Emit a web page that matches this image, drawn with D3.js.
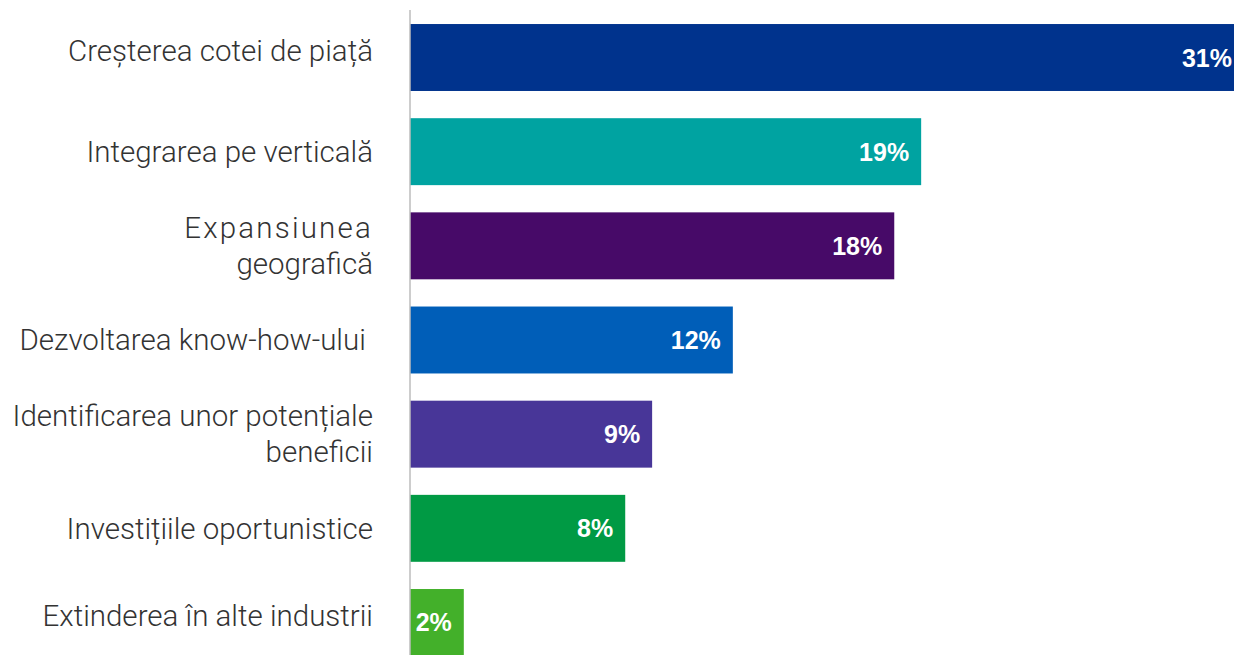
<!DOCTYPE html>
<html>
<head>
<meta charset="utf-8">
<script src="https://cdn.jsdelivr.net/npm/d3@7"></script>
<style>
  html, body { margin: 0; padding: 0; background: #fff; }
  svg { display: block; }
</style>
</head>
<body>
<div id="chart"></div>
<script>
// Categories (each one split in lines as on the slide)
const categories = [
    ["Creșterea cotei de piață"],
    ["Integrarea pe verticală"],
    ["Expansiunea", "geografică"],
    ["Dezvoltarea know-how-ului "],
    ["Identificarea unor potențiale", "beneficii"],
    ["Investițiile oportunistice"],
    ["Extinderea în alte industrii"]
];
const values = [31, 19, 18, 12, 9, 8, 2];
const colors = ["#00338D", "#00A3A1", "#470A68", "#005EB8", "#483698", "#009A44", "#43B02A"];

const width = 1234, height = 655;
const x0 = 410;

const svg = d3.select("#chart").append("svg")
    .attr("width", width)
    .attr("height", height);

const keys = categories.map(c => c.join(" "));
const n = keys.length;

let y = d3.scaleBand()
    .domain(keys)
    .range([10, 670])
    .paddingInner(0.289)
    .paddingOuter(0.149);

let x = d3.scaleLinear()
    .domain([0, 31])
    .range([x0, 1244]);

// bars
svg.selectAll("rect.bar")
    .data(values).enter()
    .append("rect")
    .attr("class", "bar")
    .attr("x", x(0))
    .attr("y", (d, i) => y(keys[i]))
    .attr("width", d => x(d) - x(0))
    .attr("height", y.bandwidth())
    .attr("fill", (d, i) => colors[i]);

// vertical axis line
svg.append("line")
    .attr("x1", x(0)).attr("x2", x(0))
    .attr("y1", y.range()[0]).attr("y2", height)
    .attr("stroke", "#bdbdbd")
    .attr("stroke-width", 1.5);

// value labels inside the bars
svg.selectAll("text.val")
    .data(values).enter()
    .append("text")
    .attr("class", "val")
    .attr("x", d => x(d) - 12)
    .attr("y", (d, i) => y(keys[i]) + y.bandwidth() / 2)
    .attr("dy", "0.36em")
    .attr("text-anchor", "end")
    .style("font-family", "'Liberation Sans', Arial, sans-serif")
    .style("font-weight", "bold")
    .style("font-size", "25px")
    .style("fill", "#fff")
    .text(d => d + "%");

// category labels (first and last sit a bit higher on the slide)
const lineH = 36;
let labels = svg.selectAll("text.cat")
    .data(categories).enter()
    .append("text")
    .attr("class", "cat")
    .attr("text-anchor", "end")
    .attr("y", (d, i) => y(keys[i]) + y.bandwidth() / 2 - (d.length - 1) * lineH / 2
        - ((i === 0 || i === n - 1) ? 7 : 0))
    .style("font-family", "Roboto, sans-serif")
    .style("font-weight", 300)
    .style("font-size", "29.5px")
    .style("fill", "#333")
    .style("white-space", "pre");

labels.selectAll("tspan")
    .data(d => d).enter()
    .append("tspan")
    .attr("x", 373)
    .attr("dy", (d, j) => j === 0 ? "0.35em" : lineH)
    .style("letter-spacing", d => d === "Expansiunea" ? "2.2px" : null)
    .text(d => d);
</script>
</body>
</html>
